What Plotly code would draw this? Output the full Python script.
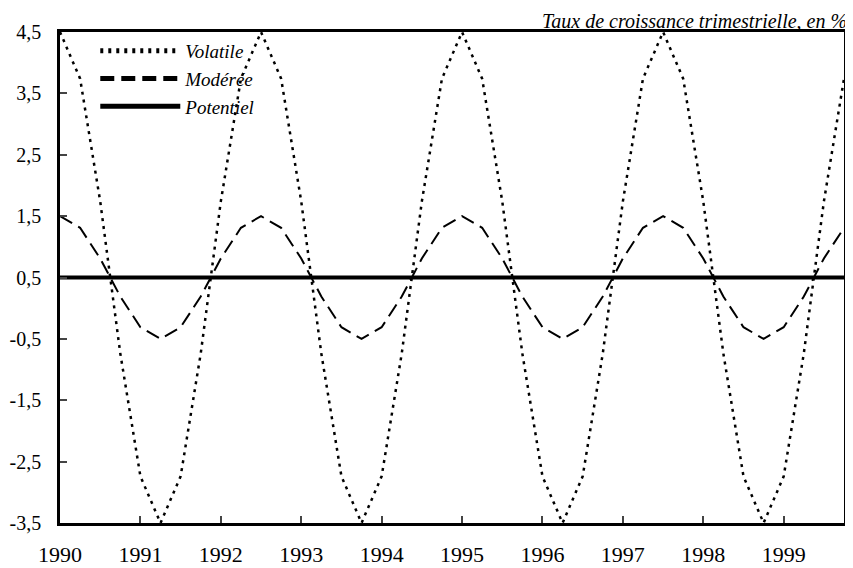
import plotly.graph_objects as go

# Quarterly dates 1990Q1 .. 1999Q4
quarters = [1990 + q / 4 for q in range(40)]

cycle_volatile = [4.5, 3.74, 1.74, -0.74, -2.74, -3.5, -2.74, -0.74, 1.74, 3.74]
cycle_moderee = [1.5, 1.31, 0.81, 0.19, -0.31, -0.5, -0.31, 0.19, 0.81, 1.31]
volatile = cycle_volatile * 4
moderee = cycle_moderee * 4
potentiel = [0.5] * 40

year_ticks = list(range(1990, 2000))
y_ticks = [-3.5, -2.5, -1.5, -0.5, 0.5, 1.5, 2.5, 3.5, 4.5]
y_labels = ["-3,5", "-2,5", "-1,5", "-0,5", "0,5", "1,5", "2,5", "3,5", "4,5"]

FONT = "Liberation Serif, Times New Roman, serif"

fig = go.Figure()
fig.add_trace(go.Scatter(x=quarters, y=volatile, name="Volatile", mode="lines",
                         line=dict(color="black", width=2.5, dash="3px,5px")))
fig.add_trace(go.Scatter(x=quarters, y=moderee, name="Modérée", mode="lines",
                         line=dict(color="black", width=2, dash="14px,7px")))
fig.add_trace(go.Scatter(x=quarters, y=potentiel, name="Potentiel", mode="lines",
                         line=dict(color="black", width=4)))

# the page body adds an 8px offset, margins compensate for it
fig.update_layout(
    width=853, height=568,
    margin=dict(l=52, r=17, t=24, b=53, autoexpand=False),
    paper_bgcolor="white", plot_bgcolor="white",
    font=dict(family=FONT, size=20, color="black"),
    showlegend=True,
    legend=dict(x=0.045, y=1.0, xanchor="left", yanchor="top",
                bgcolor="rgba(0,0,0,0)", tracegroupgap=0, itemwidth=80,
                font=dict(family=FONT, size=19, style="italic"),
                itemsizing="constant"),
    annotations=[dict(text="Taux de croissance trimestrielle, en %",
                      xref="paper", yref="paper", x=1.006, y=1.0,
                      xanchor="right", yanchor="bottom", yshift=-2, showarrow=False,
                      font=dict(family=FONT, size=20, style="italic"))],
)
fig.update_xaxes(range=[1990, 1999.75], tickvals=year_ticks, ticks="inside",
                 ticklen=7, tickwidth=2, showgrid=False, zeroline=False,
                 showline=True, linewidth=2.5, linecolor="black", mirror=True,
                 automargin=False, ticklabelstandoff=10,
                 tickfont=dict(family=FONT, size=22))
fig.update_yaxes(range=[-3.5, 4.5], tickvals=y_ticks, ticktext=y_labels,
                 ticks="inside", ticklen=7, tickwidth=2, showgrid=False,
                 zeroline=False, showline=True, linewidth=2.5, linecolor="black",
                 mirror=True, automargin=False, ticklabelstandoff=12,
                 tickfont=dict(family=FONT, size=20))

fig.write_html("out.html")
